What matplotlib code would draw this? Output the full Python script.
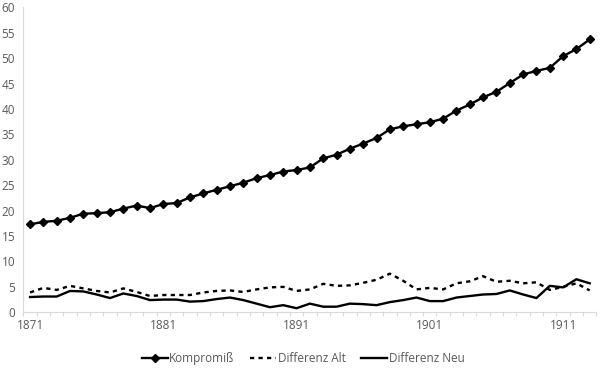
import numpy as np
import matplotlib
matplotlib.use('Agg')
import matplotlib.pyplot as plt

plt.rcParams['font.family'] = ['Open Sans', 'DejaVu Sans']

years = list(range(1871, 1914))

kompromiss = [17.3, 17.8, 18.0, 18.6, 19.4, 19.5, 19.7, 20.4, 21.0, 20.5,
              21.3, 21.5, 22.6, 23.4, 24.1, 24.8, 25.5, 26.4, 27.0, 27.7,
              28.0, 28.5, 30.3, 31.0, 32.2, 33.2, 34.3, 36.0, 36.6, 37.0,
              37.4, 38.1, 39.7, 40.9, 42.3, 43.4, 45.1, 46.8, 47.5, 48.1,
              50.4, 51.8, 53.7]

diff_alt = [3.9, 4.8, 4.4, 5.2, 4.7, 4.2, 3.9, 4.7, 4.0, 3.2,
            3.4, 3.4, 3.4, 3.9, 4.2, 4.3, 4.0, 4.5, 4.9, 5.0,
            4.2, 4.5, 5.6, 5.2, 5.3, 5.8, 6.4, 7.6, 6.2, 4.5,
            4.8, 4.5, 5.7, 6.1, 7.1, 6.0, 6.2, 5.7, 5.9, 4.4,
            5.0, 5.7, 4.3]

diff_neu = [3.0, 3.1, 3.1, 4.2, 4.1, 3.5, 2.8, 3.7, 3.2, 2.4,
            2.5, 2.5, 2.1, 2.2, 2.6, 2.9, 2.4, 1.7, 1.0, 1.4,
            0.8, 1.7, 1.1, 1.1, 1.7, 1.6, 1.4, 2.0, 2.4, 2.9,
            2.2, 2.2, 2.9, 3.2, 3.5, 3.6, 4.3, 3.5, 2.8, 5.2,
            4.9, 6.5, 5.7]

fig = plt.figure(figsize=(6, 3.7), dpi=100)
ax = fig.add_axes([0.039, 0.156, 0.955, 0.824])

ax.plot(years, kompromiss, color='black', lw=1.7, marker='D', markersize=4.4,
        label='Kompromiß')
ax.plot(years, diff_alt, color='black', lw=1.7, linestyle=(0, (1.8, 1.8)),
        label='Differenz Alt')
ax.plot(years, diff_neu, color='black', lw=1.7, label='Differenz Neu')

ax.set_xlim(1870.5, 1913.5)
ax.set_ylim(0, 60)
ax.set_yticks(range(0, 61, 5))
ax.set_xticks([1871, 1881, 1891, 1901, 1911])
ax.set_xticks(np.arange(1870.5, 1914, 1), minor=True)

for s in ['top', 'right']:
    ax.spines[s].set_visible(False)
for s in ['left', 'bottom']:
    ax.spines[s].set_color('#d9d9d9')
    ax.spines[s].set_linewidth(0.8)

ax.tick_params(axis='y', length=0, pad=6, labelsize=8.5, labelcolor='#595959')
ax.tick_params(axis='x', which='major', length=0, pad=5, labelsize=8.5,
               labelcolor='#595959')
ax.tick_params(axis='x', which='minor', length=3, color='#d9d9d9', width=0.8)

leg = fig.legend(loc='center', bbox_to_anchor=(0.505, 0.032), ncol=3, frameon=False,
                 fontsize=8.5, handlelength=2.2, columnspacing=1.3,
                 handletextpad=0.15)
for t in leg.get_texts():
    t.set_color('#595959')

fig.savefig('out.png', dpi=100)
